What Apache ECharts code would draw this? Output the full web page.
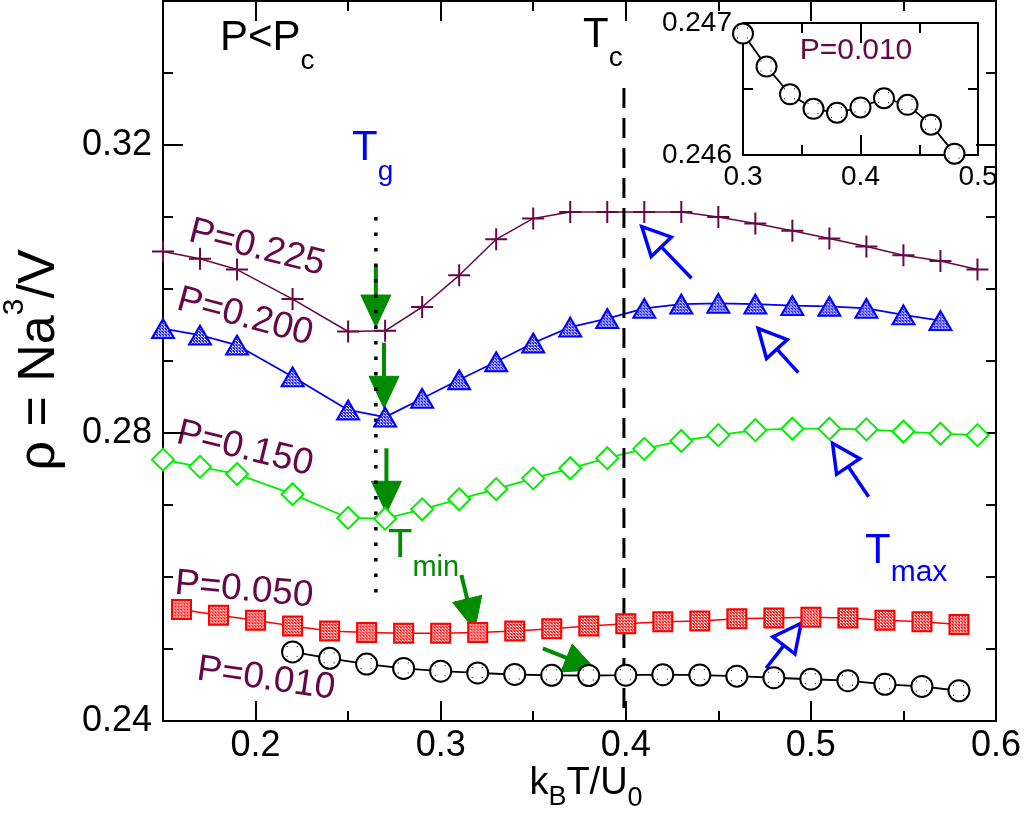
<!DOCTYPE html>
<html><head><meta charset="utf-8">
<script src="https://cdn.jsdelivr.net/npm/echarts@6/dist/echarts.min.js"></script>
<style>html,body{margin:0;padding:0;background:#fff}#c{width:1024px;height:816px}</style>
</head><body><div id="c"></div>
<script>
// ---------------- data ----------------
const T_p225 = [0.15,0.17,0.19,0.22,0.25,0.27,0.29,0.31,0.33,0.35,0.37,0.39,0.41,0.43,0.45,0.47,0.49,0.51,0.53,0.55,0.57,0.59];
const rho_p225 = [0.3052,0.3042,0.3027,0.2986,0.2941,0.2942,0.2975,0.3019,0.3069,0.3098,0.3107,0.3107,0.3107,0.3107,0.3100,0.3091,0.3081,0.3070,0.3059,0.3047,0.3039,0.3027];
const T_p200 = [0.15,0.17,0.19,0.22,0.25,0.27,0.29,0.31,0.33,0.35,0.37,0.39,0.41,0.43,0.45,0.47,0.49,0.51,0.53,0.55,0.57];
const rho_p200 = [0.2945,0.2936,0.2922,0.2878,0.2832,0.2822,0.2848,0.2874,0.2899,0.2925,0.2947,0.2959,0.2973,0.2979,0.2980,0.2979,0.2977,0.2976,0.2973,0.2964,0.2956];
const T_p150 = [0.15,0.17,0.19,0.22,0.25,0.27,0.29,0.31,0.33,0.35,0.37,0.39,0.41,0.43,0.45,0.47,0.49,0.51,0.53,0.55,0.57,0.59];
const rho_p150 = [0.2763,0.2753,0.2743,0.2715,0.2682,0.2681,0.2694,0.2708,0.2722,0.2737,0.2751,0.2765,0.2778,0.2789,0.2797,0.2804,0.2806,0.2806,0.2805,0.2802,0.2799,0.2797];
const T_p050 = [0.16,0.18,0.20,0.22,0.24,0.26,0.28,0.30,0.32,0.34,0.36,0.38,0.40,0.42,0.44,0.46,0.48,0.50,0.52,0.54,0.56,0.58];
const rho_p050 = [0.2555,0.2547,0.2540,0.2532,0.2525,0.2523,0.2522,0.2522,0.2523,0.2525,0.2528,0.2532,0.2535,0.2538,0.2539,0.2542,0.2543,0.2544,0.2543,0.2540,0.2538,0.2534];
const T_p010 = [0.22,0.24,0.26,0.28,0.30,0.32,0.34,0.36,0.38,0.40,0.42,0.44,0.46,0.48,0.50,0.52,0.54,0.56,0.58];
const rho_p010 = [0.2496,0.2487,0.2479,0.2473,0.24692,0.24667,0.24646,0.24635,0.24632,0.24636,0.24643,0.24638,0.24623,0.24601,0.2458,0.2456,0.2451,0.2448,0.2442];

const insetRange = [0.30, 0.48];

const TgLine = [[0.265, 0.3100], [0.265, 0.2578]];
const TcLine = [[0.399, 0.3279], [0.399, 0.2415]];

// arrows: [xFrom, yFrom, xTo, yTo]
const greenArrows = [
  [0.2650, 0.30333, 0.2650, 0.29472],
  [0.2694, 0.29254, 0.2694, 0.28343],
  [0.2707, 0.27788, 0.2707, 0.26885],
  [0.3112, 0.26028, 0.3184, 0.25264],
  [0.3552, 0.25010, 0.3840, 0.24708]
];
const blueArrows = [
  [0.4355, 0.30149, 0.4087, 0.30865],
  [0.4932, 0.28838, 0.4715, 0.29454],
  [0.5312, 0.27115, 0.5117, 0.27857],
  [0.4758, 0.24732, 0.4947, 0.25357]
];

const xMajor = [0.2, 0.3, 0.4, 0.5, 0.6];
const xMinor = [0.25, 0.35, 0.45, 0.55];
const yMajor = [0.24, 0.28, 0.32];
const yMinor = [0.25, 0.26, 0.27, 0.29, 0.30, 0.31, 0.33];
const insetXMajor = [0.3, 0.4, 0.5];
const insetXMinor = [0.35, 0.45];
const insetYMajor = [0.246, 0.247];
const insetYMinor = [0.2465];

// ---------------- styling ----------------
const FONT = '"Liberation Sans", Arial, Helvetica, sans-serif';
const MAROON = '#670748', BLUE = '#0000ff', GREEN = '#00ee00', DKGREEN = '#008b00', RED = '#ff0000';

// symbol paths are built at 2x2 and scaled by size/2, so the pattern is pre-scaled back
function pattern(fg, bg, n, pts, sx, sy) {
  const c = document.createElement('canvas'); c.width = n; c.height = n;
  const g = c.getContext('2d'); g.fillStyle = bg; g.fillRect(0, 0, n, n);
  g.fillStyle = fg; pts.forEach(p => g.fillRect(p[0], p[1], 1, 1));
  return { image: c, repeat: 'repeat', scaleX: sx, scaleY: sy };
}
const triFill = pattern('#ffffff', BLUE, 3, [[1, 0], [0, 2], [2, 1], [1, 1]], 2 / 22, 2 / 19);
const sqFill = pattern('#ffffff', RED, 3, [[1, 0], [0, 2], [2, 1], [1, 1]], 2 / 19, 2 / 19);
const circFill = pattern('#000000', '#ffffff', 10, [[4, 4]], 2 / 21, 2 / 21);
const circFillIn = pattern('#000000', '#ffffff', 10, [[4, 4]], 2 / 20, 2 / 20);
const diaFill = pattern('#00aa00', '#ffffff', 11, [[5, 5]], 2 / 22, 2 / 22);

const zip = (xs, ys) => xs.map((x, i) => [x, ys[i]]);

function tickAxis(base, ticks, len, labels) {
  return Object.assign({
    type: 'value', splitLine: { show: false },
    axisLine: { show: false, onZero: false },
    axisTick: { show: true, inside: true, length: len, customValues: ticks, lineStyle: { color: '#000', width: 2 } },
    axisLabel: labels ? labels : { show: false }
  }, base);
}

const mainX = { gridIndex: 0, min: 0.15, max: 0.6 };
const mainY = { gridIndex: 0, min: 0.24, max: 0.34 };
const inX = { gridIndex: 1, min: 0.3, max: 0.5 };
const inY = { gridIndex: 1, min: 0.246, max: 0.247 };
const line2 = { show: true, onZero: false, lineStyle: { color: '#000', width: 2 } };

const xAxes = [
  tickAxis(Object.assign({ position: 'bottom', axisLine: line2 }, mainX), xMajor, 20,
    { show: true, customValues: xMajor, formatter: v => v.toFixed(1), fontSize: 36, fontFamily: FONT, color: '#000', margin: 7 }),
  tickAxis(Object.assign({ position: 'bottom' }, mainX), xMinor, 10),
  tickAxis(Object.assign({ position: 'top', axisLine: line2 }, mainX), xMajor, 20),
  tickAxis(Object.assign({ position: 'top' }, mainX), xMinor, 10),
  tickAxis(Object.assign({ position: 'bottom', axisLine: line2 }, inX), insetXMajor, 20,
    { show: true, customValues: insetXMajor, formatter: v => v.toFixed(1), fontSize: 28, fontFamily: FONT, color: '#000', margin: 8 }),
  tickAxis(Object.assign({ position: 'bottom' }, inX), insetXMinor, 10),
  tickAxis(Object.assign({ position: 'top', axisLine: line2 }, inX), insetXMajor, 20),
  tickAxis(Object.assign({ position: 'top' }, inX), insetXMinor, 10)
];
const yAxes = [
  tickAxis(Object.assign({ position: 'left', axisLine: line2 }, mainY), yMajor, 20,
    { show: true, customValues: yMajor, formatter: v => v.toFixed(2), fontSize: 36, fontFamily: FONT, color: '#000', margin: 11 }),
  tickAxis(Object.assign({ position: 'left' }, mainY), yMinor, 10),
  tickAxis(Object.assign({ position: 'right', axisLine: line2 }, mainY), yMajor, 20),
  tickAxis(Object.assign({ position: 'right' }, mainY), yMinor, 10),
  tickAxis(Object.assign({ position: 'left', axisLine: line2 }, inY), insetYMajor, 20,
    { show: true, customValues: insetYMajor, formatter: v => v.toFixed(3), fontSize: 28, fontFamily: FONT, color: '#000', margin: 11 }),
  tickAxis(Object.assign({ position: 'left' }, inY), insetYMinor, 10),
  tickAxis(Object.assign({ position: 'right', axisLine: line2 }, inY), insetYMajor, 20),
  tickAxis(Object.assign({ position: 'right' }, inY), insetYMinor, 10)
];

function dataSeries(name, data, symbol, size, fill, stroke, lineColor, lw, xi, yi) {
  return {
    name, type: 'line', data, xAxisIndex: xi || 0, yAxisIndex: yi || 0,
    symbol, symbolSize: size, showSymbol: true, clip: false, silent: true, animation: false,
    lineStyle: { color: lineColor, width: lw },
    itemStyle: { color: fill, borderColor: stroke, borderWidth: 2 },
    emphasis: { disabled: true }
  };
}

function arrowSeries(data, color, open, L, W) {
  return {
    type: 'custom', xAxisIndex: 0, yAxisIndex: 0, data, silent: true, animation: false, clip: false,
    encode: { x: [0, 2], y: [1, 3] },
    renderItem: function (params, api) {
      const a = api.coord([api.value(0), api.value(1)]);
      const b = api.coord([api.value(2), api.value(3)]);
      const dx = b[0] - a[0], dy = b[1] - a[1], len = Math.hypot(dx, dy);
      const ux = dx / len, uy = dy / len, nx = -uy, ny = ux;
      const base = [b[0] - ux * L, b[1] - uy * L];
      const c1 = [base[0] + nx * W, base[1] + ny * W], c2 = [base[0] - nx * W, base[1] - ny * W];
      const lineEnd = open ? base : [base[0] + ux * 4, base[1] + uy * 4];
      return {
        type: 'group', children: [
          { type: 'line', shape: { x1: a[0], y1: a[1], x2: lineEnd[0], y2: lineEnd[1] }, style: { stroke: color, lineWidth: open ? 3.5 : 4 } },
          { type: 'polygon', shape: { points: [b, c1, c2] },
            style: open ? { fill: 'none', stroke: color, lineWidth: 3.5, lineJoin: 'miter' } : { fill: color, stroke: color, lineWidth: 1 } }
        ]
      };
    }
  };
}

const CROSS = 'path://M10,0L10,20M0,10L20,10';

const insetData = zip(T_p010, rho_p010).filter(d => d[0] >= insetRange[0] - 1e-9 && d[0] <= insetRange[1] + 1e-9);

const series = [
  dataSeries('P=0.225', zip(T_p225, rho_p225), CROSS, 22, MAROON, MAROON, MAROON, 1.5),
  dataSeries('P=0.200', zip(T_p200, rho_p200), 'triangle', [22, 19], triFill, BLUE, BLUE, 1.8),
  dataSeries('P=0.150', zip(T_p150, rho_p150), 'diamond', 22, diaFill, GREEN, GREEN, 1.8),
  dataSeries('P=0.050', zip(T_p050, rho_p050), 'rect', 19, sqFill, RED, RED, 1.5),
  dataSeries('P=0.010', zip(T_p010, rho_p010), 'circle', 21, circFill, '#000', '#000', 1.8),
  dataSeries('inset', insetData, 'circle', 20, circFillIn, '#000', '#000', 1.8, 4, 4),
  { type: 'line', data: TgLine, symbol: 'none', silent: true, animation: false, lineStyle: { color: '#000', width: 3.5, type: [3.5, 12] } },
  { type: 'line', data: TcLine, symbol: 'none', silent: true, animation: false, lineStyle: { color: '#000', width: 3, type: [20, 10] } },
  arrowSeries(greenArrows, DKGREEN, false, 32, 15),
  arrowSeries(blueArrows, BLUE, true, 28, 14)
];

// ---------------- text annotations ----------------
const mctx = document.createElement('canvas').getContext('2d');
function run(parts, x, baseline, align, color) {
  const widths = parts.map(p => { mctx.font = p.fs + 'px ' + FONT; return mctx.measureText(p.t).width; });
  const total = widths.reduce((s, w) => s + w, 0);
  let cx = align === 'center' ? x - total / 2 : x;
  return parts.map((p, i) => {
    const el = { type: 'text', x: cx, y: baseline + (p.dy || 0) - 0.35 * p.fs, silent: true,
      style: { text: p.t, font: p.fs + 'px ' + FONT, fill: p.color || color, align: 'left', verticalAlign: 'middle', textAlign: 'left', textVerticalAlign: 'middle' } };
    cx += widths[i];
    return el;
  });
}
function rotLabel(text, cx, cy, deg, fs, color) {
  return { type: 'text', x: cx, y: cy, rotation: -deg * Math.PI / 180, silent: true,
    style: { text, font: fs + 'px ' + FONT, fill: color, align: 'center', verticalAlign: 'middle', textAlign: 'center', textVerticalAlign: 'middle' } };
}

const graphics = [].concat(
  run([{ t: 'P<P', fs: 42 }, { t: 'c', fs: 28, dy: 18 }], 220, 53, 'left', '#000'),
  run([{ t: 'T', fs: 42 }, { t: 'c', fs: 28, dy: 18 }], 583, 50, 'left', '#000'),
  run([{ t: 'T', fs: 42 }, { t: 'g', fs: 28, dy: 19 }], 352, 163, 'left', BLUE),
  run([{ t: 'T', fs: 40 }, { t: 'min', fs: 29, dy: 18 }], 388, 560, 'left', DKGREEN),
  run([{ t: 'T', fs: 42 }, { t: 'max', fs: 30, dy: 17 }], 865, 566, 'left', BLUE),
  run([{ t: 'k', fs: 38 }, { t: 'B', fs: 27, dy: 10 }, { t: 'T/U', fs: 38 }, { t: '0', fs: 27, dy: 11 }], 586, 797, 'center', '#000'),
  [{ type: 'group', x: 0, y: 360, rotation: Math.PI / 2, silent: true,
     children: run([{ t: 'ρ = Na', fs: 52 }, { t: '3', fs: 30, dy: -33 }, { t: '/V', fs: 52 }], 0, 58, 'center', '#000') }],
  [
    rotLabel('P=0.225', 257, 248, 14.2, 37, MAROON),
    rotLabel('P=0.200', 245, 317, 15, 37, MAROON),
    rotLabel('P=0.150', 245, 449, 13.7, 37, MAROON),
    rotLabel('P=0.050', 244, 590, 5.3, 37, MAROON),
    rotLabel('P=0.010', 266, 679, 8.2, 37, MAROON),
    { type: 'text', x: 856, y: 51, silent: true,
      style: { text: 'P=0.010', font: '30px ' + FONT, fill: MAROON, align: 'center', verticalAlign: 'middle', textAlign: 'center', textVerticalAlign: 'middle' } }
  ]
);

const chart = echarts.init(document.getElementById('c'), null, { renderer: 'canvas' });
chart.setOption({
  animation: false,
  backgroundColor: '#ffffff',
  grid: [
    { left: 163, right: 27, top: 1, bottom: 95, containLabel: false },
    { left: 743, top: 23, width: 235, height: 132, containLabel: false }
  ],
  xAxis: xAxes,
  yAxis: yAxes,
  series: series,
  graphic: { elements: graphics }
});
</script>
</body></html>
